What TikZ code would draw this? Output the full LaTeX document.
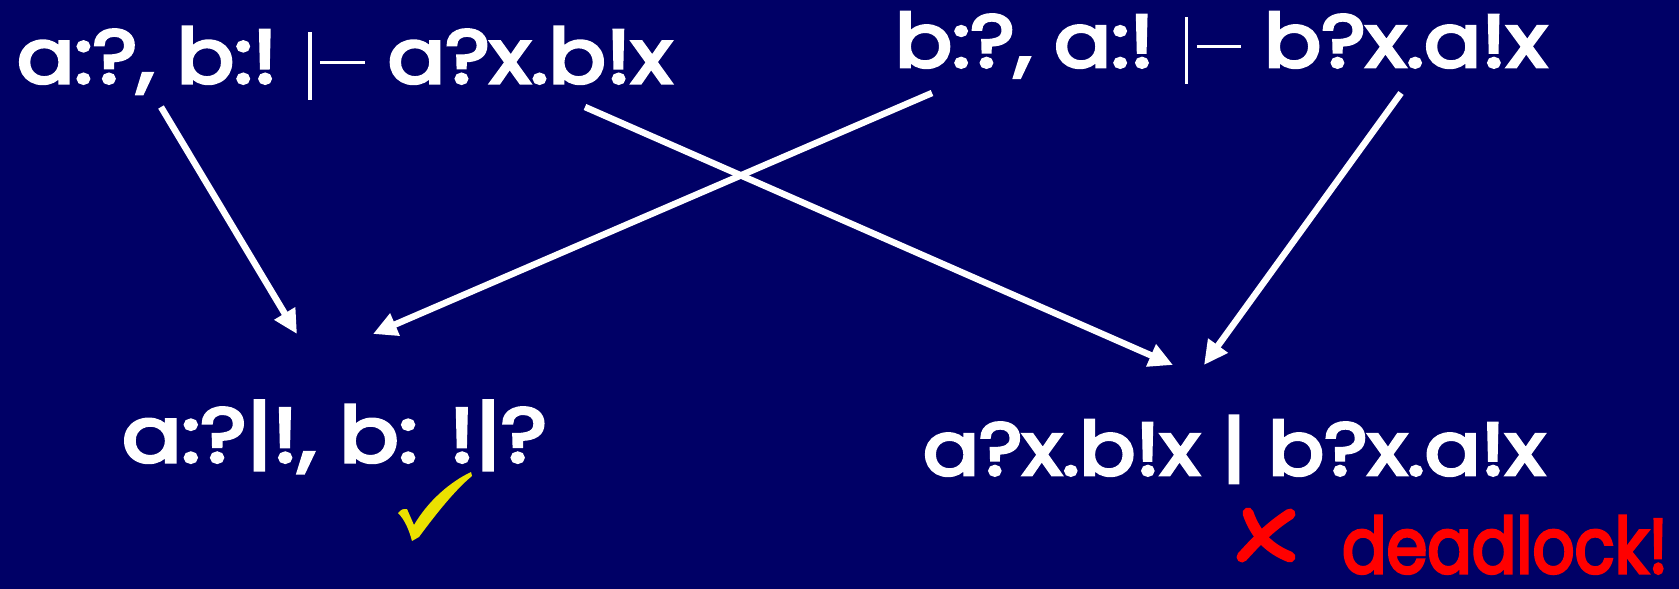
\documentclass[tikz,border=0pt]{standalone}
\usepackage{fontspec}
\usepackage{graphicx}
\setmainfont{Poppins}[FakeBold=4]
\usetikzlibrary{arrows.meta}

\definecolor{slatebg}{RGB}{0,0,102}
\definecolor{okyellow}{RGB}{235,225,0}
\definecolor{warnred}{RGB}{255,0,0}

% height of a lower-case ascender, used to size the turnstile
\newlength\ascht
\newcommand{\entails}{\settoheight\ascht{b}%
  \rule[-0.3\ascht]{0.055\ascht}{1.21\ascht}\hspace{0.14\ascht}%
  \rule[0.34\ascht]{0.71\ascht}{0.06\ascht}}
\newcommand{\parbar}{\smash{|}}

\tikzset{
  judg/.style={inner sep=0pt, outer sep=0pt, text=white, anchor=base west,
    font=\fontsize{60}{70}\selectfont},
  redu/.style={draw=white, line width=6.5pt,
    -{Triangle[length=24pt,width=23pt]}},
  brush/.style={draw=warnred, line width=11pt, line cap=round},
}

\begin{document}
\begin{tikzpicture}[x=1pt,y=-1pt]
\useasboundingbox (0,0) rectangle (1679,589);
\fill[slatebg] (0,0) rectangle (1679,589);

% the two typing judgements
\node[judg] (ja) at (17,83)
  {\resizebox{655pt}{56pt}{a:?, b:! \entails{} a?x.b!x}};
\node[judg] (jb) at (895,67)
  {\resizebox{652pt}{55pt}{b:?, a:! \entails{} b?x.a!x}};

% the two results
\node[judg] (good) at (122,462)
  {\resizebox{425pt}{57pt}{a:?\parbar!, b: !\parbar?}};
\node[judg] (bad) at (923,475)
  {\resizebox{622pt}{55pt}{a?x.b!x \parbar{} b?x.a!x}};

% verdicts: a tick under the good result, a cross by the deadlock
\fill[okyellow] (398,513) .. controls (402,509) .. (407,509)
  -- (414,525) .. controls (428,501) and (450,482) .. (471,472)
  -- (472,476) .. controls (455,490) and (436,514) .. (419,537)
  -- (412,541) .. controls (409,530) and (405,520) .. (398,513) -- cycle;
\draw[brush] (1248,513) .. controls (1256,536) and (1270,549) .. (1290,557);
\draw[brush] (1290,514) .. controls (1268,528) and (1255,543) .. (1242,557);
\node[judg, text=warnred] (dead)
  at (1342,573) {\resizebox{326pt}{57pt}{deadlock!}};

% arrow end points
\coordinate (a1) at (161,107);
\coordinate (b1) at (297,334);
\coordinate (a2) at (585,107);
\coordinate (b2) at (1173,365);
\coordinate (a3) at (932,93);
\coordinate (b3) at (373,334);
\coordinate (a4) at (1401,93);
\coordinate (b4) at (1204,365);

\draw[redu] (a1) -- (b1);
\draw[redu] (a2) -- (b2);
\draw[redu] (a3) -- (b3);
\draw[redu] (a4) -- (b4);
\end{tikzpicture}
\end{document}
